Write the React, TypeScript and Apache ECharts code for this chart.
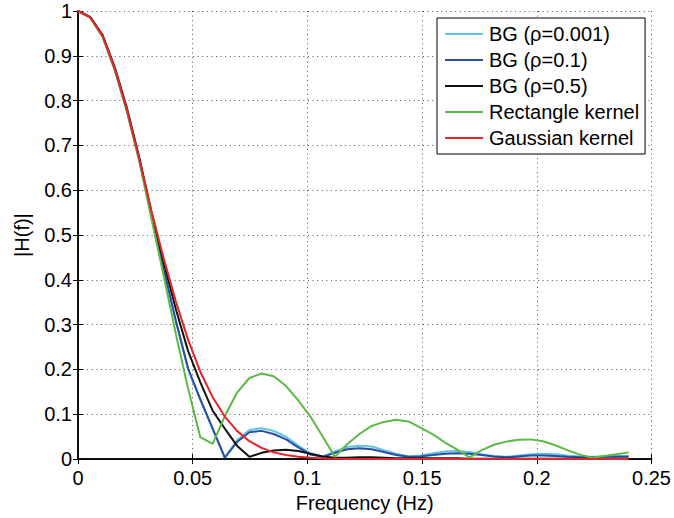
import React, { useEffect, useRef } from "react";
import * as echarts from "echarts";

const freqs = [0, 0.0053, 0.0107, 0.016, 0.0213, 0.0267, 0.032, 0.0373, 0.0427, 0.048, 0.0533, 0.0587, 0.064, 0.0693, 0.0747, 0.08, 0.0853, 0.0907, 0.096, 0.1013, 0.1067, 0.112, 0.1173, 0.1227, 0.128, 0.1333, 0.1387, 0.144, 0.1493, 0.1547, 0.16, 0.1653, 0.1707, 0.176, 0.1813, 0.1867, 0.192, 0.1973, 0.2027, 0.208, 0.2133, 0.2187, 0.224, 0.2293, 0.2347, 0.24];

const bg0001 = [1, 0.986, 0.944, 0.87, 0.777, 0.667, 0.544, 0.423, 0.306, 0.2, 0.132, 0.067, 0.004, 0.042, 0.065, 0.069, 0.063, 0.05, 0.03, 0.013, 0.006, 0.017, 0.027, 0.03, 0.028, 0.02, 0.012, 0.006, 0.008, 0.013, 0.017, 0.018, 0.016, 0.011, 0.007, 0.005, 0.008, 0.011, 0.012, 0.011, 0.008, 0.006, 0.005, 0.006, 0.007, 0.007];

const bg01 = [1, 0.986, 0.944, 0.87, 0.778, 0.668, 0.545, 0.425, 0.308, 0.202, 0.134, 0.068, 0.003, 0.038, 0.06, 0.063, 0.056, 0.044, 0.026, 0.01, 0.005, 0.014, 0.022, 0.024, 0.022, 0.016, 0.009, 0.005, 0.006, 0.009, 0.012, 0.013, 0.012, 0.009, 0.006, 0.004, 0.006, 0.008, 0.008, 0.007, 0.005, 0.004, 0.004, 0.005, 0.005, 0.005];

const bg05 = [1, 0.987, 0.947, 0.875, 0.784, 0.673, 0.552, 0.44, 0.334, 0.241, 0.172, 0.108, 0.068, 0.03, 0.005, 0.014, 0.019, 0.021, 0.018, 0.012, 0.006, 0.003, 0.003, 0.004, 0.004, 0.003, 0.002, 0.002, 0.002, 0.002, 0.002, 0.002, 0.001, 0.001, 0.001, 0.001, 0.001, 0.001, 0.001, 0.001, 0.001, 0.001, 0.001, 0.001, 0.001, 0.001];

const rectKernel = [1, 0.985, 0.942, 0.868, 0.776, 0.665, 0.537, 0.41, 0.278, 0.157, 0.049, 0.034, 0.096, 0.148, 0.181, 0.191, 0.185, 0.163, 0.131, 0.095, 0.05, 0.005, 0.033, 0.056, 0.074, 0.083, 0.088, 0.084, 0.07, 0.055, 0.037, 0.021, 0.004, 0.02, 0.032, 0.039, 0.043, 0.044, 0.04, 0.031, 0.02, 0.01, 0.003, 0.007, 0.011, 0.015];

const gaussKernel = [1, 0.986, 0.945, 0.872, 0.78, 0.67, 0.553, 0.449, 0.351, 0.266, 0.195, 0.138, 0.095, 0.063, 0.04, 0.025, 0.015, 0.009, 0.005, 0.003, 0.0015, 0.001, 0.0005, 0, 0, 0, 0, 0, 0, 0, 0, 0, 0, 0, 0, 0, 0, 0, 0, 0, 0, 0, 0, 0, 0, 0];

const seriesNames = ["BG (ρ=0.001)", "BG (ρ=0.1)", "BG (ρ=0.5)", "Rectangle kernel", "Gaussian kernel"];
const seriesValues = [bg0001, bg01, bg05, rectKernel, gaussKernel];
const seriesColors = ["#62c5df", "#2a4da3", "#111111", "#5cb946", "#e8232a"];

const FONT = "'Liberation Sans', Arial, Helvetica, sans-serif";

export default function App() {
  const ref = useRef<HTMLDivElement>(null);
  useEffect(() => {
    if (!ref.current) return;
    const chart = echarts.init(ref.current, undefined, { renderer: "svg" });
    const axisLine = { show: true, lineStyle: { color: "#000", width: 1.5 } };
    const tick = { show: true, inside: true, length: 5, lineStyle: { color: "#000", width: 1 } };
    const grid = { show: true, lineStyle: { color: "#555", width: 1, type: [1, 3.6] } };
    chart.setOption({
      animation: false,
      backgroundColor: "#fff",
      textStyle: { fontFamily: FONT },
      grid: { left: 78, right: 21, top: 11, bottom: 55, containLabel: false },
      legend: {
        show: true,
        orient: "vertical",
        left: 437,
        top: 18,
        padding: [6, 6, 6, 8],
        itemGap: 6,
        itemWidth: 38,
        itemHeight: 2,
        icon: "rect",
        backgroundColor: "#fff",
        borderColor: "#000",
        borderWidth: 1,
        borderRadius: 0,
        textStyle: { fontSize: 20, color: "#000", fontFamily: FONT, lineHeight: 20, padding: [0, 0, 0, 1] },
        data: seriesNames,
      },
      xAxis: [
        {
          type: "value",
          min: 0,
          max: 0.25,
          interval: 0.05,
          name: "Frequency (Hz)",
          nameLocation: "middle",
          nameGap: 30,
          nameTextStyle: { fontSize: 20, color: "#000", fontFamily: FONT },
          axisLine,
          axisTick: tick,
          axisLabel: { fontSize: 20, color: "#000", margin: 9, fontFamily: FONT },
          splitLine: grid,
        },
        {
          type: "value",
          position: "top",
          min: 0,
          max: 0.25,
          interval: 0.05,
          axisLine,
          axisTick: tick,
          axisLabel: { show: false },
          splitLine: { show: false },
        },
      ],
      yAxis: [
        {
          type: "value",
          min: 0,
          max: 1,
          interval: 0.1,
          name: "|H(f)|",
          nameLocation: "middle",
          nameGap: 46,
          nameTextStyle: { fontSize: 20, color: "#000", fontFamily: FONT },
          axisLine,
          axisTick: tick,
          axisLabel: { fontSize: 20, color: "#000", margin: 6, fontFamily: FONT },
          splitLine: grid,
        },
        {
          type: "value",
          position: "right",
          min: 0,
          max: 1,
          interval: 0.1,
          axisLine,
          axisTick: tick,
          axisLabel: { show: false },
          splitLine: { show: false },
        },
      ],
      series: seriesNames.map((name, i) => ({
        name,
        type: "line",
        xAxisIndex: 0,
        yAxisIndex: 0,
        symbol: "none",
        showSymbol: false,
        clip: false,
        color: seriesColors[i],
        lineStyle: { color: seriesColors[i], width: 2 },
        data: freqs.map((f, j) => [f, seriesValues[i][j]]),
      })),
    });
    return () => chart.dispose();
  }, []);
  return <div ref={ref} style={{ position: "fixed", left: 0, top: 0, width: 674, height: 518 }} />;
}
